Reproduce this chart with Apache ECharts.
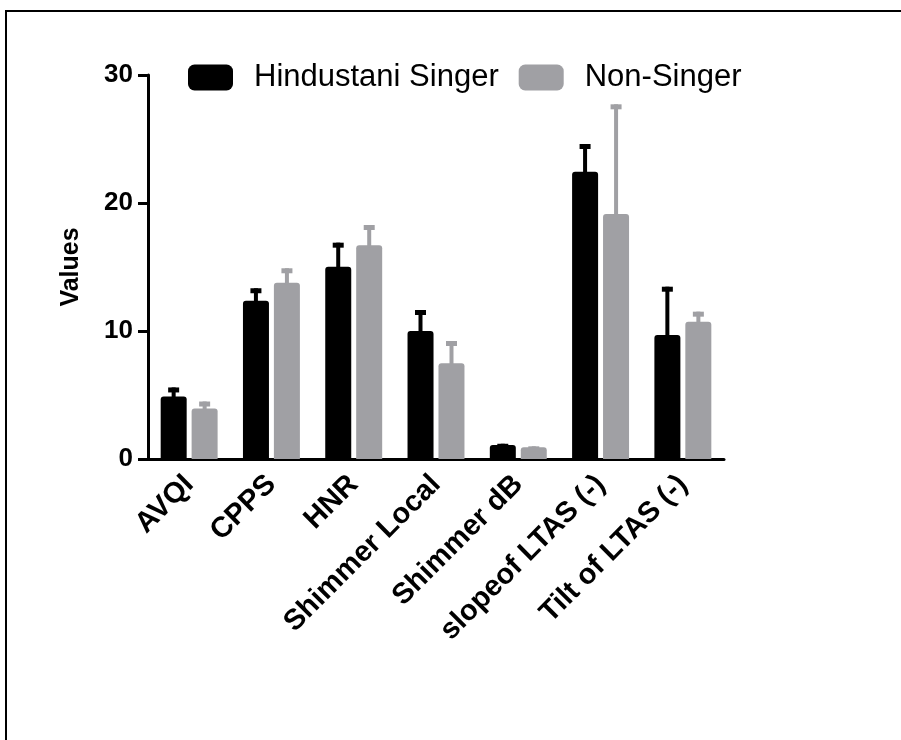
<!DOCTYPE html>
<html>
<head>
<meta charset="utf-8">
<script src="https://cdn.jsdelivr.net/npm/echarts@6/dist/echarts.min.js"></script>
<style>
  html, body { margin: 0; padding: 0; background: #fff; }
  #chart { width: 901px; height: 740px; }
</style>
</head>
<body>
<div id="chart"></div>
<script>
// categories and group names
var categories = ['AVQI', 'CPPS', 'HNR', 'Shimmer Local', 'Shimmer dB', 'slopeof LTAS (-)', 'Tilt of LTAS (-)'];
var groupNames = ['Hindustani Singer', 'Non-Singer'];

// means
var singerMean = [4.88, 12.37, 15.02, 10.0, 1.09, 22.45, 9.69];
var nonSingerMean = [3.95, 13.77, 16.7, 7.48, 0.91, 19.14, 10.73];

// upper error (SD)
var singerSD = [0.71, 0.97, 1.88, 1.64, 0.1, 2.16, 3.77];
var nonSingerSD = [0.54, 1.13, 1.58, 1.74, 0.08, 8.57, 0.78];

var yTicks = [0, 10, 20, 30];

var black = '#000000';
var grey = '#a0a0a4';
var font = "'Liberation Sans', Arial, sans-serif";

function errData(mean, sd) {
    var out = [];
    for (var i = 0; i < mean.length; i++) {
        out.push([i, mean[i], mean[i] + sd[i]]);
    }
    return out;
}

// draws one-sided (upper) error bars, shifted onto its bar in the group
function errRender(offset, color) {
    return function (params, api) {
        var top = api.coord([api.value(0), api.value(2)]);
        var base = api.coord([api.value(0), api.value(1)]);
        var x = top[0] + offset;
        return {
            type: 'group',
            children: [
                {type: 'line', shape: {x1: x, y1: base[1] + 2, x2: x, y2: top[1]},
                 style: {stroke: color, lineWidth: 4}},
                {type: 'rect', shape: {x: x - 5.5, y: top[1], width: 11, height: 5},
                 style: {fill: color}}
            ]
        };
    };
}

var dom = document.getElementById('chart');
var myChart = echarts.init(dom);
var option = {
    animation: false,
    backgroundColor: '#ffffff',
    textStyle: {fontFamily: font},
    graphic: [
        {
            type: 'polyline',
            shape: {points: [[6, 740], [6, 11], [901, 11]]},
            style: {stroke: '#000', lineWidth: 2, fill: null}
        }
    ],
    legend: {
        left: 188,
        top: 62,
        padding: 0,
        itemWidth: 45,
        itemHeight: 26,
        itemGap: 20,
        icon: 'roundRect',
        data: groupNames,
        textStyle: {fontSize: 31, color: '#000', fontFamily: font, padding: [0, 0, 0, 16]}
    },
    grid: {left: 148, right: 177, top: 75, bottom: 281},
    xAxis: {
        type: 'category',
        data: categories,
        axisLine: {lineStyle: {color: '#000', width: 3}},
        axisTick: {alignWithLabel: true, length: 10, lineStyle: {color: '#000', width: 3}},
        axisLabel: {
            interval: 0,
            rotate: 45,
            margin: 21,
            color: '#000',
            fontSize: 29,
            fontWeight: 'bold',
            fontFamily: font
        }
    },
    yAxis: {
        type: 'value',
        min: yTicks[0],
        max: yTicks[yTicks.length - 1],
        interval: 10,
        name: 'Values',
        nameLocation: 'middle',
        nameRotate: 90,
        nameGap: 64,
        nameTextStyle: {fontSize: 25, fontWeight: 'bold', color: '#000', fontFamily: font},
        axisLine: {show: true, lineStyle: {color: '#000', width: 3}},
        axisTick: {show: true, length: 10, lineStyle: {color: '#000', width: 3}},
        splitLine: {show: false},
        axisLabel: {margin: 15, color: '#000', fontSize: 26, fontWeight: 'bold', fontFamily: font}
    },
    series: [
        {
            name: groupNames[0],
            type: 'bar',
            barWidth: 26,
            barGap: '19%',
            itemStyle: {color: black, borderRadius: [3, 3, 0, 0]},
            data: singerMean
        },
        {
            name: groupNames[1],
            type: 'bar',
            barWidth: 26,
            itemStyle: {color: grey, borderRadius: [3, 3, 0, 0]},
            data: nonSingerMean
        },
        {
            type: 'custom',
            renderItem: errRender(-15.5, black),
            encode: {x: 0, y: [1, 2]},
            z: 3,
            data: errData(singerMean, singerSD)
        },
        {
            type: 'custom',
            renderItem: errRender(15.5, grey),
            encode: {x: 0, y: [1, 2]},
            z: 3,
            data: errData(nonSingerMean, nonSingerSD)
        }
    ]
};
if (option && typeof option === 'object') {
    myChart.setOption(option, true);
}
</script>
</body>
</html>
